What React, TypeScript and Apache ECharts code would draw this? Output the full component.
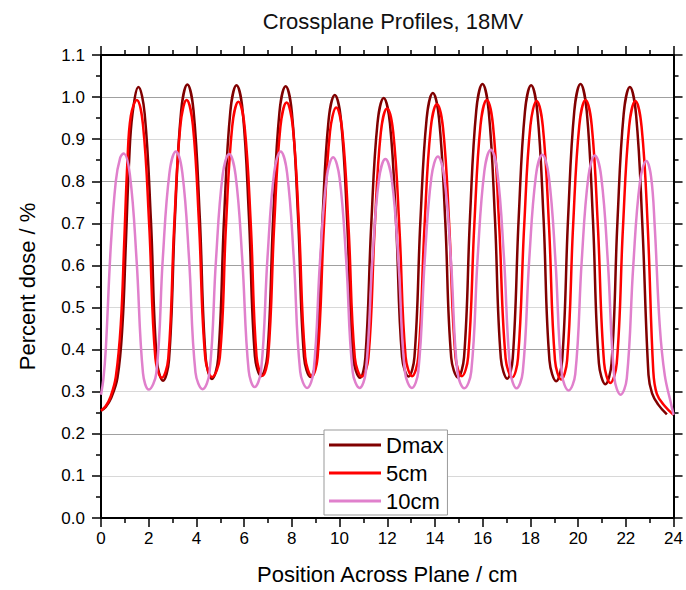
import { useEffect, useRef } from 'react';
import * as echarts from 'echarts';

const seriesNames = ['Dmax', '5cm', '10cm'];
const seriesColors = ['#800000', '#ff0000', '#e080cc'];

const dmax = [
  [0, 0.255], [0.2, 0.264], [0.41, 0.283], [0.69, 0.333], [0.9, 0.458], [1.04, 0.65], [1.18, 0.85], [1.32, 0.96], [1.57, 1.024],
  [1.83, 0.961], [2.09, 0.710], [2.34, 0.375], [2.60, 0.326],
  [2.85, 0.375], [3.10, 0.713], [3.36, 0.967], [3.62, 1.030],
  [3.88, 0.967], [4.14, 0.715], [4.39, 0.379], [4.65, 0.330],
  [4.91, 0.379], [5.16, 0.714], [5.42, 0.965], [5.68, 1.028],
  [5.94, 0.966], [6.20, 0.717], [6.45, 0.385], [6.71, 0.337],
  [6.97, 0.385], [7.22, 0.716], [7.48, 0.964], [7.74, 1.026],
  [8.00, 0.964], [8.26, 0.715], [8.51, 0.383], [8.78, 0.335],
  [9.03, 0.382], [9.28, 0.704], [9.54, 0.945], [9.80, 1.005],
  [10.06, 0.945], [10.32, 0.703], [10.57, 0.380], [10.86, 0.333],
  [11.08, 0.380], [11.33, 0.699], [11.59, 0.938], [11.85, 0.998],
  [12.11, 0.938], [12.37, 0.700], [12.62, 0.382], [12.89, 0.336],
  [13.14, 0.383], [13.39, 0.707], [13.65, 0.949], [13.91, 1.010],
  [14.17, 0.949], [14.43, 0.706], [14.68, 0.381], [14.96, 0.334],
  [15.22, 0.383], [15.47, 0.717], [15.73, 0.968], [15.99, 1.031],
  [16.25, 0.968], [16.51, 0.716], [16.76, 0.380], [17.03, 0.331],
  [17.26, 0.380], [17.51, 0.714], [17.77, 0.965], [18.03, 1.028],
  [18.29, 0.965], [18.55, 0.712], [18.80, 0.374], [19.08, 0.325],
  [19.33, 0.374], [19.58, 0.713], [19.84, 0.967], [20.10, 1.031],
  [20.36, 0.967], [20.62, 0.710], [20.87, 0.368], [21.14, 0.318],
  [21.40, 0.367], [21.65, 0.706], [21.91, 0.960], [22.17, 1.024],
  [22.43, 0.958], [22.69, 0.700], [22.95, 0.340], [23.1, 0.296], [23.35, 0.270], [23.72, 0.246],
];

const fivecm = [
  [0, 0.255], [0.2, 0.266], [0.4, 0.288], [0.62, 0.335], [0.83, 0.46], [0.97, 0.65], [1.11, 0.85], [1.25, 0.955], [1.50, 0.993],
  [1.76, 0.934], [2.02, 0.696], [2.28, 0.379], [2.55, 0.333],
  [2.82, 0.379], [3.07, 0.696], [3.33, 0.934], [3.59, 0.993],
  [3.85, 0.934], [4.11, 0.697], [4.37, 0.381], [4.66, 0.335],
  [4.98, 0.381], [5.24, 0.695], [5.50, 0.930], [5.76, 0.989],
  [6.02, 0.930], [6.28, 0.696], [6.52, 0.384], [6.77, 0.338],
  [7.01, 0.384], [7.26, 0.695], [7.52, 0.929], [7.78, 0.987],
  [8.04, 0.929], [8.30, 0.695], [8.56, 0.383], [8.84, 0.337],
  [9.08, 0.382], [9.34, 0.688], [9.60, 0.918], [9.86, 0.975],
  [10.12, 0.917], [10.38, 0.687], [10.64, 0.381], [10.93, 0.336],
  [11.21, 0.381], [11.47, 0.686], [11.73, 0.916], [11.99, 0.973],
  [12.25, 0.916], [12.51, 0.687], [12.77, 0.382], [13.04, 0.337],
  [13.30, 0.382], [13.56, 0.692], [13.82, 0.925], [14.08, 0.983],
  [14.34, 0.925], [14.60, 0.692], [14.86, 0.382], [15.13, 0.337],
  [15.39, 0.383], [15.65, 0.698], [15.91, 0.934], [16.17, 0.993],
  [16.43, 0.934], [16.69, 0.696], [16.96, 0.380], [17.24, 0.334],
  [17.48, 0.380], [17.74, 0.695], [18.00, 0.932], [18.26, 0.991],
  [18.52, 0.931], [18.78, 0.693], [19.03, 0.375], [19.29, 0.329],
  [19.54, 0.375], [19.79, 0.694], [20.05, 0.933], [20.31, 0.993],
  [20.57, 0.933], [20.83, 0.691], [21.09, 0.368], [21.35, 0.321],
  [21.62, 0.368], [21.88, 0.690], [22.14, 0.931], [22.40, 0.991],
  [22.66, 0.930], [22.92, 0.690], [23.15, 0.350], [23.3, 0.295], [23.63, 0.266], [24, 0.245],
];

const tencm = [
  [0, 0.293], [0.1, 0.33], [0.2, 0.40], [0.41, 0.645], [0.62, 0.80], [0.80, 0.855], [0.94, 0.866],
  [1.21, 0.816], [1.49, 0.614], [1.76, 0.344], [2.00, 0.305],
  [2.32, 0.345], [2.59, 0.616], [2.87, 0.820], [3.14, 0.871],
  [3.41, 0.820], [3.69, 0.617], [3.96, 0.346], [4.26, 0.306],
  [4.55, 0.346], [4.82, 0.613], [5.10, 0.815], [5.37, 0.865],
  [5.64, 0.815], [5.92, 0.616], [6.19, 0.350], [6.44, 0.311],
  [6.71, 0.350], [6.98, 0.619], [7.26, 0.821], [7.53, 0.871],
  [7.80, 0.820], [8.08, 0.618], [8.35, 0.348], [8.64, 0.309],
  [8.91, 0.348], [9.18, 0.610], [9.46, 0.808], [9.73, 0.857],
  [10.00, 0.808], [10.28, 0.610], [10.55, 0.347], [10.84, 0.309],
  [11.10, 0.347], [11.37, 0.608], [11.65, 0.804], [11.92, 0.853],
  [12.19, 0.804], [12.47, 0.608], [12.74, 0.347], [13.03, 0.309],
  [13.30, 0.348], [13.57, 0.612], [13.85, 0.810], [14.12, 0.859],
  [14.39, 0.809], [14.67, 0.611], [14.94, 0.347], [15.23, 0.308],
  [15.52, 0.348], [15.79, 0.620], [16.07, 0.824], [16.34, 0.875],
  [16.61, 0.824], [16.89, 0.620], [17.16, 0.348], [17.42, 0.308],
  [17.68, 0.347], [17.95, 0.613], [18.23, 0.813], [18.50, 0.863],
  [18.77, 0.813], [19.05, 0.611], [19.32, 0.342], [19.60, 0.303],
  [19.88, 0.342], [20.15, 0.610], [20.43, 0.811], [20.70, 0.861],
  [20.97, 0.810], [21.25, 0.605], [21.52, 0.333], [21.78, 0.293],
  [22.04, 0.332], [22.31, 0.598], [22.59, 0.798], [22.86, 0.848],
  [23.06, 0.81], [23.21, 0.694], [23.42, 0.458], [23.63, 0.34], [23.9, 0.27], [24, 0.245],
];

const seriesData = [dmax, fivecm, tencm];

const FONT = "'Liberation Sans', Arial, sans-serif";

export default function App() {
  const ref = useRef<HTMLDivElement>(null);

  useEffect(() => {
    document.body.style.margin = '0';
    if (!ref.current) return;
    const chart = echarts.init(ref.current, undefined, { renderer: 'svg' });

    const tickStyle = { color: '#000', width: 1.5 };
    const axisLine = { show: true, onZero: false, lineStyle: { color: '#000', width: 2 } };

    const xBase = {
      type: 'value',
      min: 0,
      max: 24,
      interval: 2,
      axisLine,
      axisTick: { show: true, length: 9, lineStyle: tickStyle },
      minorTick: { show: true, splitNumber: 2, length: 5, lineStyle: tickStyle },
      splitLine: { show: false },
      minorSplitLine: { show: false },
    };
    const yBase = {
      type: 'value',
      min: 0,
      max: 1.1,
      interval: 0.1,
      axisLine,
      axisTick: { show: true, length: 9, lineStyle: tickStyle },
      minorTick: { show: true, splitNumber: 2, length: 5, lineStyle: tickStyle },
      minorSplitLine: { show: false },
    };

    chart.setOption({
      animation: false,
      backgroundColor: '#fff',
      title: {
        text: 'Crossplane Profiles, 18MV',
        left: 388,
        top: 5,
        textAlign: 'center',
        textStyle: { fontFamily: FONT, fontSize: 22, fontWeight: 'normal', color: '#111' },
      },
      grid: { left: 101, right: 10, top: 55, bottom: 69 },
      legend: {
        data: seriesNames,
        orient: 'vertical',
        left: 324,
        top: 430,
        icon: 'rect',
        itemWidth: 52,
        itemHeight: 3,
        itemGap: 6,
        padding: [4, 4, 3, 5],
        backgroundColor: '#fff',
        borderColor: '#999',
        borderWidth: 1,
        borderRadius: 0,
        textStyle: { fontFamily: FONT, fontSize: 22, color: '#000', lineHeight: 22 },
      },
      xAxis: [
        {
          ...xBase,
          position: 'bottom',
          axisLabel: { fontFamily: FONT, fontSize: 17, color: '#000', margin: 12 },
          name: 'Position Across Plane / cm',
          nameLocation: 'middle',
          nameGap: 45,
          nameTextStyle: { fontFamily: FONT, fontSize: 22, color: '#000' },
        },
        {
          ...xBase,
          position: 'top',
          axisLabel: { show: false },
        },
      ],
      yAxis: [
        {
          ...yBase,
          position: 'left',
          axisLabel: {
            fontFamily: FONT,
            fontSize: 17,
            color: '#000',
            margin: 16,
            formatter: (v: number) => v.toFixed(1),
          },
          splitLine: { show: true, lineStyle: { color: ['#a0a0a0', '#d8d8d8'], width: 1.2 } },
          name: 'Percent dose / %',
          nameLocation: 'middle',
          nameGap: 63,
          nameTextStyle: { fontFamily: FONT, fontSize: 22, color: '#000' },
        },
        {
          ...yBase,
          position: 'right',
          axisLabel: { show: false },
          splitLine: { show: false },
        },
      ],
      series: seriesData.map((d, i) => ({
        name: seriesNames[i],
        type: 'line',
        xAxisIndex: 0,
        yAxisIndex: 0,
        data: d,
        symbol: 'none',
        showSymbol: false,
        smooth: 0.4,
        color: seriesColors[i],
        itemStyle: { color: seriesColors[i] },
        lineStyle: { color: seriesColors[i], width: 2.5 },
        z: 2 + i,
      })),
    });

    return () => {
      chart.dispose();
    };
  }, []);

  return <div ref={ref} style={{ width: 686, height: 590 }} />;
}
